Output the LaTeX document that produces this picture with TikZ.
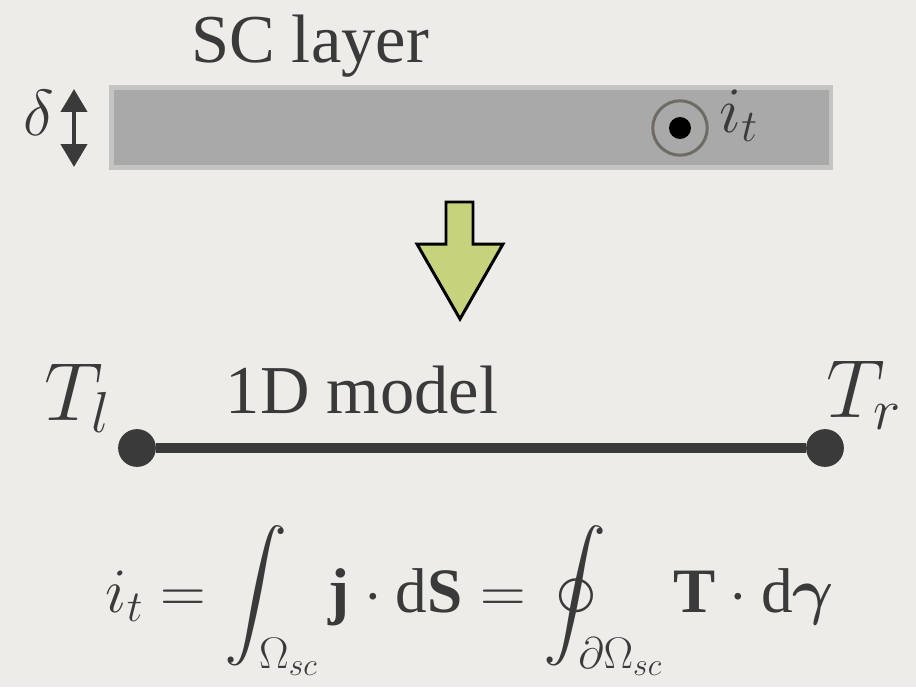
\RequirePackage{fix-cm}
\documentclass[tikz,border=0pt]{standalone}
\usepackage{amsmath}
\DeclareFontShape{OMX}{cmex}{m}{n}{<-> cmex10}{}
\usepackage{fontspec}
\setmainfont{Liberation Serif}
\usepackage{tikz}
\usetikzlibrary{positioning,arrows.meta,calc}
\definecolor{scPaper}{HTML}{EEECE8}
\definecolor{scInk}{HTML}{3A3A3A}
\definecolor{scBar}{HTML}{A9A9A9}
\definecolor{scBarL}{HTML}{C4C4C2}
\definecolor{scRing}{HTML}{6E6A66}
\definecolor{scGreen}{HTML}{C6D27C}
\tikzset{
  sc-text/.style={font=\fontsize{39}{46}\selectfont, text=scInk, inner sep=0pt},
  sc-sym/.style={font=\fontsize{37}{44}\selectfont, text=scInk, inner sep=0pt},
  sc-math/.style={font=\fontsize{47}{56}\selectfont, text=scInk, inner sep=0pt},
  sc-end/.style={circle, fill=scInk, minimum size=21.5pt, inner sep=0pt},
  sc-wire/.style={line width=5.8pt, draw=scInk},
  sc-dim/.style={{Triangle[width=14.6pt,length=13pt]}-{Triangle[width=14.6pt,length=13pt]},
    line width=2.8pt, draw=scInk}
}
\begin{document}
\begin{tikzpicture}[x=0.02cm, y=-0.02cm]
\fill[scPaper] (0,0) rectangle (916,687);
\useasboundingbox (0,0) rectangle (916,687);

% superconducting layer
\node[sc-text, anchor=base] (title) at (310,62) {SC layer};
\fill[scBarL] (109,85) rectangle (833,170);
\fill[scBar] (114,90) rectangle (829,165);
\coordinate (dtop) at (74,89);
\coordinate (dbot) at (74,167);
\draw[sc-dim] (dtop) -- (dbot);
\node[sc-sym, anchor=base east] (delta) at (54,135) {$\delta$};
\node[circle, draw=scRing, line width=1.7pt, minimum size=31pt, inner sep=0pt] (ring) at (680,128) {};
\node[circle, fill=black, minimum size=12.5pt, inner sep=0pt] (dot) at (ring) {};
\node[sc-sym, anchor=base west] (it) at (719,132) {$i_t$};

% reduction arrow
\draw[line width=1.7pt, fill=scGreen, line join=miter]
  (446,202) -- (473,202) -- (473,244) -- (503,244) -- (460,319)
  -- (417,244) -- (446,244) -- cycle;

% 1D model
\node[sc-end] (Tl) at (137,448) {};
\node[sc-end] (Tr) at (825,448) {};
\draw[sc-wire] (Tl) -- (Tr);
\node[sc-text, anchor=base] (model) at (362,413) {1D model};
\node[sc-math, anchor=base west] (Tlab) at (44,420) {$T_l$};
\node[sc-math, anchor=base west] (Trlab) at (826,417) {$T_r$};

% current
\node[sc-sym, font=\fontsize{36}{43}\selectfont, anchor=base] (eq) at (470,612)
  {$\displaystyle i_t = \int_{\Omega_{sc}} \mathbf{j}\cdot \mathrm{d}\mathbf{S}
   = \oint_{\partial\Omega_{sc}} \mathbf{T}\cdot \mathrm{d}\boldsymbol{\gamma}$};
\end{tikzpicture}
\end{document}
